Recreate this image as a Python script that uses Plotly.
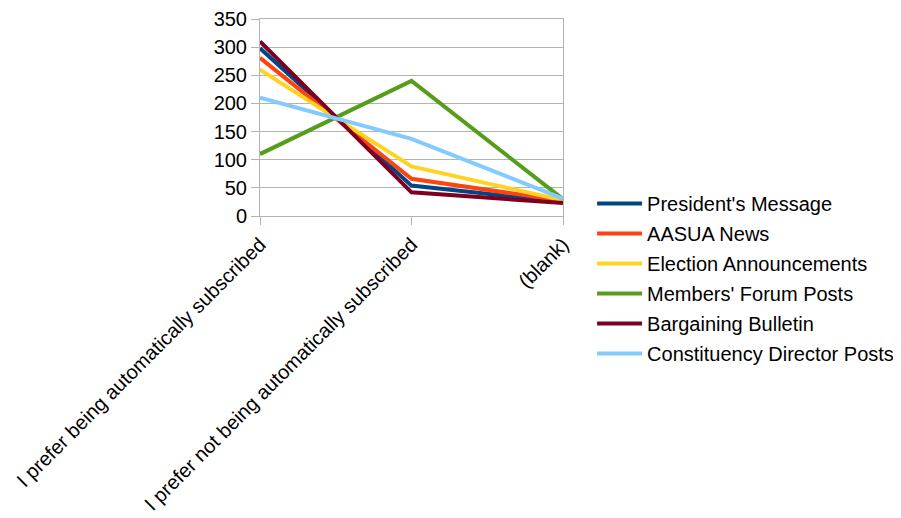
import plotly.graph_objects as go

categories = ["I prefer being automatically subscribed",
              "I prefer not being automatically subscribed",
              "(blank)"]
series_names = ["President's Message", "AASUA News", "Election Announcements",
                "Members' Forum Posts", "Bargaining Bulletin", "Constituency Director Posts"]
presidents_message = [298, 54, 25]
aasua_news = [281, 66, 27]
election_announcements = [260, 88, 28]
members_forum_posts = [110, 240, 30]
bargaining_bulletin = [310, 42, 23]
constituency_director_posts = [210, 137, 31]
y_ticks = [0, 50, 100, 150, 200, 250, 300, 350]

colors = ["#004586", "#ff420e", "#ffd320", "#579d1c", "#7e0021", "#83caff"]
all_values = [presidents_message, aasua_news, election_announcements,
              members_forum_posts, bargaining_bulletin, constituency_director_posts]

fig = go.Figure()
for i, (name, vals, c) in enumerate(zip(series_names, all_values, colors)):
    fig.add_trace(go.Scatter(x=categories, y=vals, mode="lines", name=name,
                             legendgroup="g%d" % i,
                             line=dict(color=c, width=4)))

font = dict(family="Liberation Sans, Arial, sans-serif", size=20, color="#000000")
fig.update_layout(
    width=901, height=518,
    margin=dict(l=252, r=346, t=11, b=310, autoexpand=False),
    plot_bgcolor="white", paper_bgcolor="white",
    font=font,
    showlegend=True,
    legend=dict(x=1.096, y=0.162, xanchor="left", yanchor="top",
                font=dict(family="Liberation Sans, Arial, sans-serif", size=20),
                bgcolor="rgba(0,0,0,0)", tracegroupgap=1, itemwidth=45,
                traceorder="grouped"),
    xaxis=dict(type="category", range=[0, 2], tickangle=-45, automargin=False,
               showgrid=False, showline=True, linecolor="#b3b3b3", linewidth=1,
               mirror=True, ticks="outside", ticklen=8, tickcolor="#b3b3b3",
               tickfont=font, zeroline=False),
    yaxis=dict(range=[0, 350], tickvals=y_ticks, showgrid=True, gridcolor="#b3b3b3",
               showline=True, linecolor="#b3b3b3", linewidth=1, mirror=True,
               automargin=False,
               ticks="outside", ticklen=8, tickcolor="#b3b3b3",
               tickfont=font, zeroline=False),
)
fig.write_html("out.html")
